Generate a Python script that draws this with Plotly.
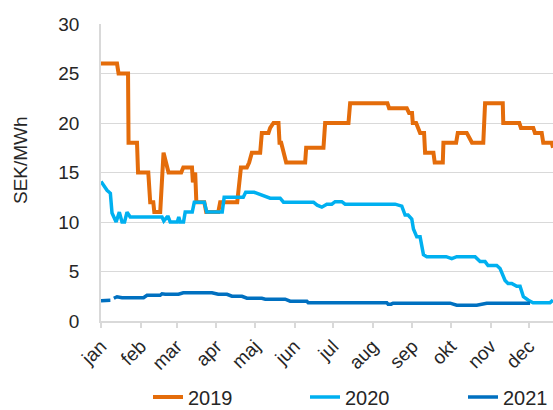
import plotly.graph_objects as go

# Day of year (0 = 1 Jan) and price in SEK/MWh
days_2019 = [0, 12.5, 13.7, 21.1, 21.5, 28.1, 28.9, 36.9, 38.4, 40.8, 41.6, 46.2, 48.8, 52.7,
             62.6, 64.2, 71.0, 71.7, 73.5, 74.4, 80.6, 82.1, 91.5, 93.0, 106.3, 109.2, 113.8,
             115.6, 117.7, 124.2, 125.5, 130.7, 132.0, 134.6, 138.5, 139.3, 140.6, 144.5,
             159.3, 160.1, 173.6, 174.9, 193.1, 194.4, 223.5, 224.8, 238.6, 240.4, 242.7,
             243.3, 245.9, 249.0, 252.1, 252.9, 259.4, 260.4, 266.7, 267.2, 277.1, 278.4,
             285.4, 289.5, 298.3, 299.7, 313.5, 313.9, 326.4, 327.7, 337.3, 338.6, 343.9,
             345.1, 351.7, 352.7]
vals_2019 = [26, 26, 25, 25, 18, 18, 15, 15, 12, 12, 11, 11, 17, 15,
             15, 15.5, 15.5, 14, 15, 12, 12, 11, 11, 12, 12, 15.5, 15.5,
             16, 17, 17, 19, 19, 19.5, 20, 20, 18, 18, 16,
             16, 17.5, 17.5, 20, 20, 22, 22, 21.5, 21.5, 21, 21,
             20, 20, 19, 19, 17, 17, 16, 16, 18, 18, 19,
             19, 18, 18, 22, 22, 20, 20, 19.5, 19.5, 19, 19,
             18, 18, 17.5]

days_2020 = [0, 4.7, 7.3, 8.6, 11.8, 14.3, 16.4, 18.4, 20.3, 22.8, 47.6, 49.0, 51.5, 52.5,
             54.0, 59.5, 60.7, 61.8, 64.4, 65.7, 71.2, 72.8, 80.6, 82.5, 94.6, 96.1, 111.0,
             112.9, 119.5, 124.2, 129.4, 132.0, 139.8, 142.4, 165.8, 168.7, 172.3, 176.2,
             180.1, 182.7, 187.9, 190.5, 229.5, 234.7, 237.3, 239.6, 242.5, 243.8, 246.4,
             249.0, 251.6, 254.2, 264.6, 269.3, 273.7, 277.6, 291.9, 295.8, 299.7, 302.0,
             308.8, 311.4, 315.3, 317.6, 320.5, 324.4, 327.0, 329.6, 333.5, 337.1, 350.4,
             352.7]
vals_2020 = [14.1, 13.2, 12.9, 10.9, 10.0, 11.0, 10.0, 10.0, 11.0, 10.5, 10.5, 10.1, 10.5, 10.5,
             10.0, 10.0, 10.5, 10.0, 10.0, 11.0, 11.0, 12.0, 12.0, 11.0, 11.0, 12.5, 12.5,
             13.0, 13.0, 12.8, 12.6, 12.4, 12.4, 12.0, 12.0, 11.7, 11.5, 11.8,
             11.8, 12.05, 12.05, 11.8, 11.8, 11.6, 10.7, 10.7, 10.3, 9.3, 8.5,
             8.5, 6.7, 6.5, 6.5, 6.5, 6.3, 6.5, 6.5, 6.0, 6.0, 5.6,
             5.6, 5.3, 4.1, 3.8, 3.8, 3.5, 3.5, 2.45, 2.1, 1.85, 1.85,
             2.1]

days_2021 = [0, 7.3, 8.5, 10.0, 12.5, 16.4, 33.2, 35.9, 46.2, 47.6, 50.1, 60.5, 64.2, 86.6,
             91.5, 98.3, 102.2, 110.0, 113.9, 125.5, 128.2, 143.7, 147.6, 160.6, 161.7,
             223.0, 224.0, 226.4, 227.9, 272.4, 277.6, 293.2, 301.0, 334.8]
vals_2021 = [2.05, 2.1, None, 2.3, 2.45, 2.35, 2.35, 2.6, 2.6, 2.75, 2.7, 2.7, 2.85, 2.85,
             2.7, 2.7, 2.5, 2.5, 2.3, 2.3, 2.2, 2.2, 2.0, 2.0, 1.85,
             1.85, 1.7, 1.7, 1.8, 1.8, 1.6, 1.6, 1.8, 1.8]

month_starts = [0, 31, 59, 90, 120, 151, 181, 212, 243, 273, 304, 334]
month_labels = ["jan", "feb", "mar", "apr", "maj", "jun", "jul", "aug", "sep", "okt", "nov", "dec"]

FONT = "Liberation Sans, Arial, sans-serif"
TXT = "#262626"
GRID = "#D9D9D9"
W, H = 553, 410

fig = go.Figure()
fig.add_trace(go.Scatter(x=days_2019, y=vals_2019, mode="lines", name="2019",
                         line=dict(color="#E46C0A", width=4), legend="legend"))
fig.add_trace(go.Scatter(x=days_2020, y=vals_2020, mode="lines", name="2020",
                         line=dict(color="#00B0F0", width=3.5), legend="legend2"))
fig.add_trace(go.Scatter(x=days_2021, y=vals_2021, mode="lines", name="2021",
                         line=dict(color="#0070C0", width=3.5), legend="legend3",
                         connectgaps=False))

leg_common = dict(orientation="h", xref="container", yref="container", yanchor="middle",
                  y=(H - 397) / H, font=dict(family=FONT, size=20, color=TXT),
                  bgcolor="rgba(0,0,0,0)", borderwidth=0, itemwidth=30)

fig.update_layout(
    width=W, height=H,
    margin=dict(l=101, r=0, t=24, b=89, autoexpand=False),
    paper_bgcolor="white", plot_bgcolor="white",
    font=dict(family=FONT, size=19, color=TXT),
    showlegend=True,
    legend=dict(x=148 / W, xanchor="left", **leg_common),
    legend2=dict(x=305 / W, xanchor="left", **leg_common),
    legend3=dict(x=463 / W, xanchor="left", **leg_common),
    xaxis=dict(range=[0, 352.7], tickmode="array", tickvals=month_starts, ticktext=month_labels,
               tickangle=-45, showgrid=False, showline=True, linecolor=GRID, linewidth=1.5,
               ticks="outside", ticklen=5, tickcolor=GRID, tickwidth=1.5,
               tickfont=dict(family=FONT, size=19, color=TXT), zeroline=False, fixedrange=True),
    yaxis=dict(range=[0, 30], dtick=5, showgrid=True, gridcolor=GRID, gridwidth=1.3,
               showline=True, linecolor=GRID, linewidth=1.7, ticks="", zeroline=False,
               ticklabelstandoff=16, fixedrange=True,
               tickfont=dict(family=FONT, size=19, color=TXT)),
    annotations=[dict(text="SEK/MWh", textangle=-90, xref="paper", yref="paper",
                      x=-(101 - 20) / 452, y=(321 - 160) / 297, xanchor="center", yanchor="middle",
                      showarrow=False, font=dict(family=FONT, size=19, color=TXT))],
)

fig.write_html("out.html", config={"displayModeBar": False},
               post_script="document.body.style.margin='0';document.body.style.padding='0';")
